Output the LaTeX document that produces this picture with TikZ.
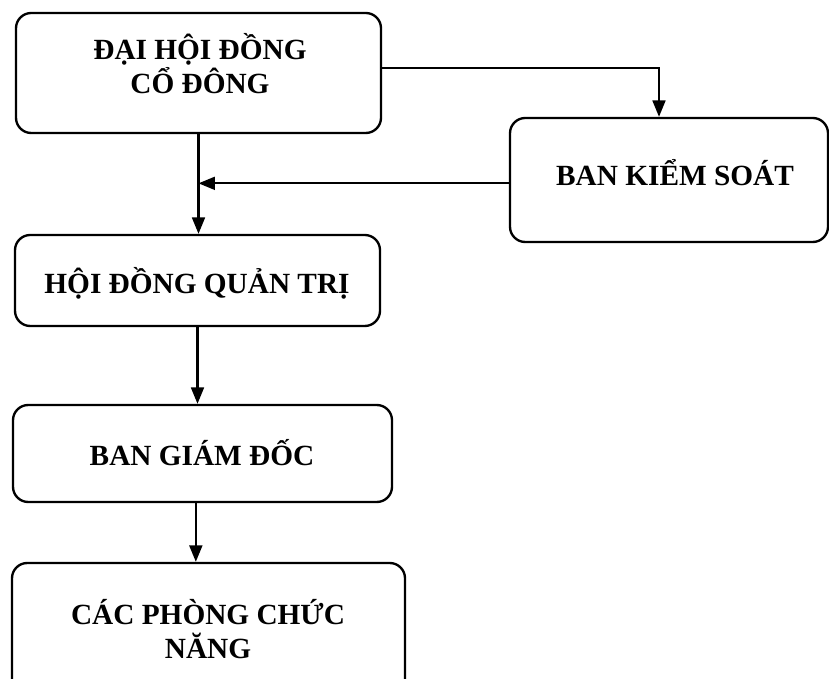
\documentclass[tikz,border=0pt]{standalone}
\usepackage{fontspec}
\setmainfont{Liberation Serif}
\usetikzlibrary{arrows.meta,calc,fit}
\tikzset{
  box/.style={draw,line width=2pt,rounded corners=13pt,inner sep=0pt},
  txt/.style={align=center,inner sep=0pt,font=\fontsize{25}{29}\selectfont\bfseries}
}
\begin{document}
\begin{tikzpicture}[x=0.03cm,y=-0.03cm,line width=1.8pt,>={Triangle[width=11pt,length=14pt]}]
\useasboundingbox (0,0) rectangle (829,679);
\foreach \a/\b/\c/\d/\n in {16/13/381/133/dh,510/118/828/242/ks,15/235/380/326/hq,13/405/392/502/gd,12/563/405/705/pb}
{
\node[box,fit={(\a,\b)(\c,\d)}](\n){};
}
\node[txt](dht)at(200,64){ĐẠI HỘI ĐỒNG\\CỔ ĐÔNG};
\node[txt](kst)at(675,173){BAN KIỂM SOÁT};
\node[txt](hqt)at(197,283){HỘI ĐỒNG QUẢN TRỊ};
\node[txt](gdt)at(202,453){BAN GIÁM ĐỐC};
\node[txt](pbt)at(208,629){CÁC PHÒNG CHỨC\\NĂNG};
\draw[->]([yshift=0.15cm]dh.east)-|([xshift=-0.3cm]ks.north);
\draw[->]([yshift=-0.1cm]ks.west)--([yshift=-0.1cm]ks.west-|dh.south);
\draw[->](dh.south)--(dh.south|-hq.north);
\draw[->](hq.south)--(hq.south|-gd.north);
\draw[->]([xshift=-0.2cm]gd.south)--([xshift=-0.2cm]gd.south|-pb.north);
\end{tikzpicture}
\end{document}
